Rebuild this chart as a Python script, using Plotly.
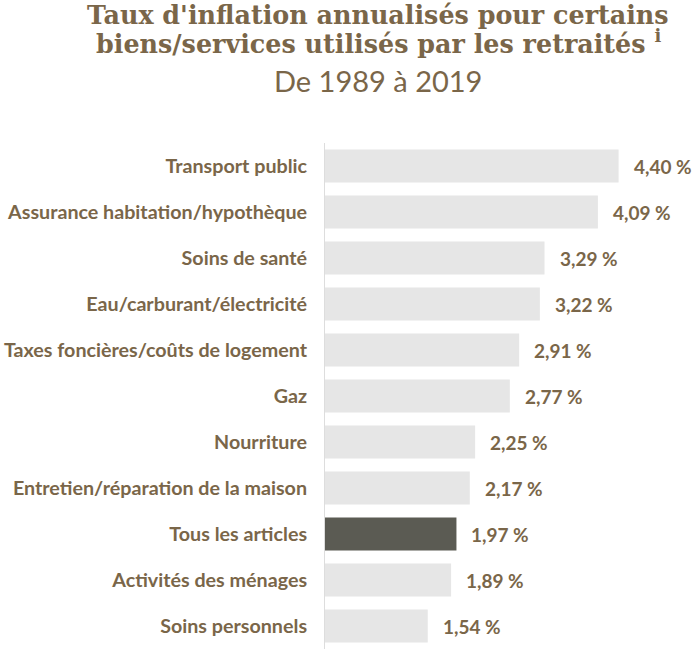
import plotly.graph_objects as go

categories = ["Transport public", "Assurance habitation/hypothèque", "Soins de santé",
              "Eau/carburant/électricité", "Taxes foncières/coûts de logement", "Gaz",
              "Nourriture", "Entretien/réparation de la maison", "Tous les articles",
              "Activités des ménages", "Soins personnels"]
values = [4.40, 4.09, 3.29, 3.22, 2.91, 2.77, 2.25, 2.17, 1.97, 1.89, 1.54]
highlight = "Tous les articles"

title_line1 = "Taux d'inflation annualisés pour certains"
title_line2 = "biens/services utilisés par les retraités <sup>i</sup>"
subtitle = "De 1989 à 2019"

BROWN = "#7a6649"
colors = ["#5b5b53" if c == highlight else "#e6e6e6" for c in categories]
labels = [f"{v:.2f} %".replace(".", ",") for v in values]

fig = go.Figure(go.Bar(
    x=values, y=categories, orientation="h",
    marker=dict(color=colors, line=dict(width=0)),
    hoverinfo="skip",
))

for c, v, t in zip(categories, values, labels):
    fig.add_annotation(x=v, y=c, text=t, showarrow=False, xanchor="left",
                       xshift=13, font=dict(family="Lato", size=19, color=BROWN, weight="bold"))

title_font = dict(family="DejaVu Serif", size=25.4, color=BROWN, weight="bold")
cx = (378 - 325) / 371
for txt, yy, fnt in [(title_line1, 1.252, title_font),
                     (title_line2, 1.1996, title_font),
                     (subtitle, 1.1245, dict(family="Lato", size=29, color=BROWN))]:
    fig.add_annotation(x=cx, xref="paper", y=yy, yref="paper",
                       text=txt, showarrow=False, xanchor="center", yanchor="middle", font=fnt)

fig.update_layout(
    width=696, height=650,
    margin=dict(l=325, r=0, t=143, b=1, autoexpand=False),
    paper_bgcolor="white", plot_bgcolor="white",
    bargap=0.28,
    showlegend=False,
    xaxis=dict(range=[0, 5.56], visible=False),
    yaxis=dict(autorange="reversed", showline=True, linecolor="#dddddd", linewidth=1,
               ticks="", ticklabelstandoff=13, showgrid=False, automargin=False,
               tickfont=dict(family="Lato", size=19.7, color=BROWN, weight="bold")),
)

fig.write_html("out.html", config={"displayModeBar": False},
               post_script="document.body.style.margin='0';document.body.style.overflow='hidden';")
